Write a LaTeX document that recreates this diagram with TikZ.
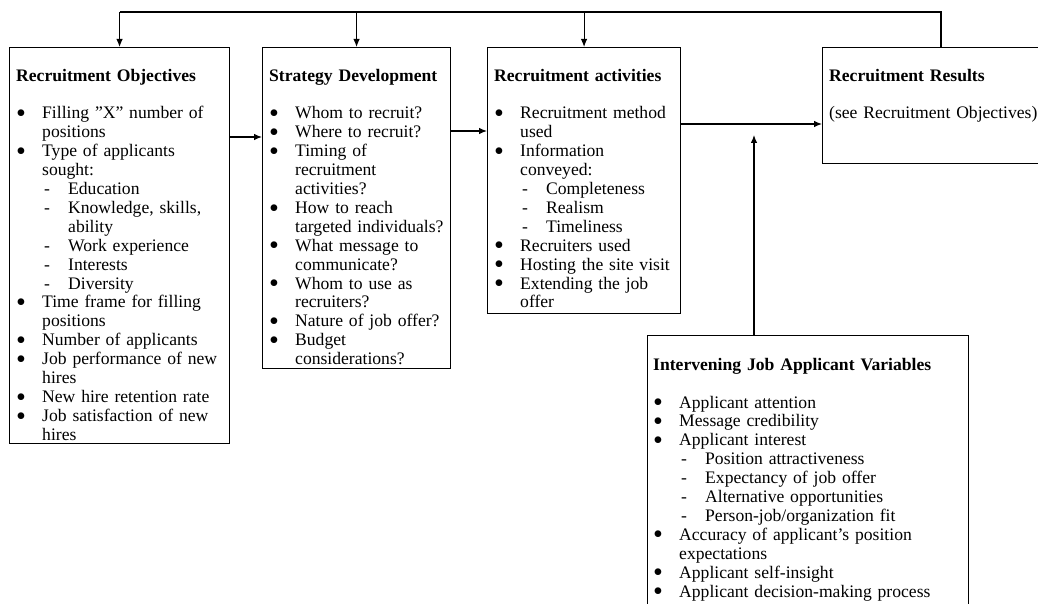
\documentclass[tikz,border=0pt]{standalone}
\usepackage{fontspec}
\setmainfont{Liberation Serif}
\usetikzlibrary{arrows.meta,calc}
\newcommand\BulletMark{\raisebox{-0.45ex}{\scalebox{1.6}{\textbullet}}}
\newcommand\Bit[1]{\noindent\makebox[26pt][l]{\BulletMark}#1\par}
\newcommand\Bcont[1]{\noindent\hspace*{26pt}#1\par}
\newcommand\Dit[1]{\noindent\hspace*{28pt}\makebox[24pt][l]{-}#1\par}
\newcommand\Ttl[1]{\noindent\rule{0pt}{14pt}\textbf{#1}\par\vspace{18.9pt}}
\begin{document}
\begin{tikzpicture}[x=1pt,y=-1pt,
  box/.style={draw,line width=1.1pt,inner sep=0pt,anchor=north west},
  txt/.style={inner sep=0pt,anchor=north west,align=left,text width=330pt,font=\fontsize{17.6}{18.9}\selectfont},
  arr/.style={line width=1.1pt,-{Latex[length=8pt,width=6.5pt]}},
  ln/.style={line width=1.1pt}]
\useasboundingbox[fill=white] (0,0) rectangle (1038,604);
% boxes
\node[box,minimum width=220pt,minimum height=396pt] (obj) at (9,47) {};
\node[box,minimum width=188pt,minimum height=321pt] (strat) at (262,47) {};
\node[box,minimum width=193pt,minimum height=266pt] (act) at (487,47) {};
\node[box,minimum width=225pt,minimum height=116pt] (res) at (822,47) {};
\node[box,minimum width=321pt,minimum height=290pt] (interv) at (647,335) {};
% texts
\node[txt] (objt) at ([shift={(7,20)}]obj.north west) {%
\Ttl{Recruitment Objectives}
\Bit{Filling ”X” number of}
\Bcont{positions}
\Bit{Type of applicants}
\Bcont{sought:}
\Dit{Education}
\Dit{Knowledge, skills,}
\Bcont{\hspace*{26pt}ability}
\Dit{Work experience}
\Dit{Interests}
\Dit{Diversity}
\Bit{Time frame for filling}
\Bcont{positions}
\Bit{Number of applicants}
\Bit{Job performance of new}
\Bcont{hires}
\Bit{New hire retention rate}
\Bit{Job satisfaction of new}
\Bcont{hires}};
\node[txt] (stratt) at ([shift={(7,20)}]strat.north west) {%
\Ttl{Strategy Development}
\Bit{Whom to recruit?}
\Bit{Where to recruit?}
\Bit{Timing of}
\Bcont{recruitment}
\Bcont{activities?}
\Bit{How to reach}
\Bcont{targeted individuals?}
\Bit{What message to}
\Bcont{communicate?}
\Bit{Whom to use as}
\Bcont{recruiters?}
\Bit{Nature of job offer?}
\Bit{Budget}
\Bcont{considerations?}};
\node[txt] (actt) at ([shift={(7,20)}]act.north west) {%
\Ttl{Recruitment activities}
\Bit{Recruitment method}
\Bcont{used}
\Bit{Information}
\Bcont{conveyed:}
\Dit{Completeness}
\Dit{Realism}
\Dit{Timeliness}
\Bit{Recruiters used}
\Bit{Hosting the site visit}
\Bit{Extending the job}
\Bcont{offer}};
\node[txt] (rest) at ([shift={(7,20)}]res.north west) {%
\Ttl{Recruitment Results}
\noindent(see Recruitment Objectives)\par};
\node[txt] (intervt) at ([shift={(6,21)}]interv.north west) {%
\Ttl{Intervening Job Applicant Variables}
\Bit{Applicant attention}
\Bit{Message credibility}
\Bit{Applicant interest}
\Dit{Position attractiveness}
\Dit{Expectancy of job offer}
\Dit{Alternative opportunities}
\Dit{Person-job/organization fit}
\Bit{Accuracy of applicant’s position}
\Bcont{expectations}
\Bit{Applicant self-insight}
\Bit{Applicant decision-making process}};
% feedback loop
\coordinate (fbR) at (941,12);
\draw[ln] (res.north -| fbR) -- (fbR) -- (obj.north |- fbR);
\draw[arr] (obj.north |- fbR) -- (obj.north);
\draw[arr] (strat.north |- fbR) -- (strat.north);
\draw[arr] (act.north |- fbR) -- (act.north);
% forward arrows
\coordinate (ya) at (0,137);
\coordinate (yb) at (0,131);
\coordinate (yc) at (0,124);
\draw[arr] (obj.east |- ya) -- (strat.west |- ya);
\draw[arr] (strat.east |- yb) -- (act.west |- yb);
\draw[arr] (act.east |- yc) -- (res.west |- yc);
\coordinate (uptip) at (754,135);
\draw[arr] (interv.north -| uptip) -- (uptip);
\end{tikzpicture}
\end{document}
